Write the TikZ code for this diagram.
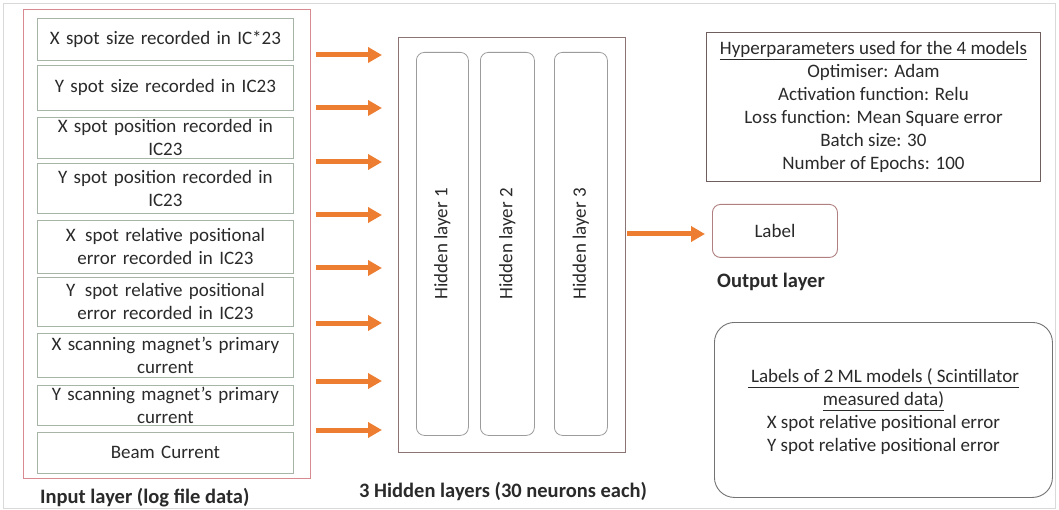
\documentclass[tikz,border=0pt]{standalone}
\usepackage{fontspec}
\setmainfont{Carlito}
\usetikzlibrary{arrows.meta,calc}
\definecolor{oarr}{HTML}{ED7D31}
\definecolor{redframe}{HTML}{D98A90}
\definecolor{inedge}{HTML}{A7B5A6}
\definecolor{hidedge}{HTML}{8C7474}
\definecolor{layedge}{HTML}{9C9C9C}
\definecolor{labedge}{HTML}{B08080}
\definecolor{hypedge}{HTML}{6E5E5E}
\definecolor{txt}{HTML}{2A2A2A}
\newcommand\bodyfs{\fontsize{19}{23}\selectfont}
\tikzset{
  inbox/.style={draw=inedge, line width=0.8pt, minimum width=256pt, anchor=north west, inner sep=0pt},
  intext/.style={text=txt, align=center, text width=256pt, inner sep=0pt, font=\bodyfs},
  layerbox/.style={draw=layedge, line width=0.8pt, rounded corners=8pt, anchor=north west, inner sep=0pt},
  layertext/.style={text=txt, rotate=90, inner sep=0pt, font=\bodyfs},
  caption/.style={text=txt, inner sep=0pt, font=\fontsize{20.5}{24}\selectfont\bfseries},
  feed/.style={draw=oarr, line width=5pt, -{Triangle[length=14pt,width=15pt]}}
}
\begin{document}
\begin{tikzpicture}[x=1pt,y=-1pt]
\useasboundingbox (0,0) rectangle (1059,510);
\fill[white] (0,0) rectangle (1059,510);
\draw[black!15, line width=0.8pt] (3,3) rectangle (1055,508);

% input layer
\node[draw=redframe, line width=1.3pt, minimum width=287pt, minimum height=469pt, anchor=north west, inner sep=0pt] (inframe) at (23,9) {};
\node[inbox, minimum height=42pt] (i1) at (37,18) {};
\node[intext] (t1) at (i1.center) {X spot size recorded in IC*23};
\node[inbox, minimum height=45pt] (i2) at (37,65) {};
\node[intext] (t2) at (i2.center) {Y spot size recorded in IC23};
\node[inbox, minimum height=41pt] (i3) at (37,117) {};
\node[intext] (t3) at (i3.center) {X spot position recorded in\\IC23};
\node[inbox, minimum height=50pt] (i4) at (37,163) {};
\node[intext] (t4) at (i4.center) {Y spot position recorded in\\IC23};
\node[inbox, minimum height=53pt] (i5) at (37,220) {};
\node[intext] (t5) at (i5.center) {X\, spot relative positional\\error recorded in IC23};
\node[inbox, minimum height=49pt] (i6) at (37,277) {};
\node[intext] (t6) at (i6.center) {Y\, spot relative positional\\error recorded in IC23};
\node[inbox, minimum height=44pt] (i7) at (37,333) {};
\node[intext] (t7) at (i7.center) {X scanning magnet's primary\\current};
\node[inbox, minimum height=40pt] (i8) at (37,385) {};
\node[intext] (t8) at (i8.center) {Y scanning magnet's primary\\current};
\node[inbox, minimum height=41pt] (i9) at (37,432) {};
\node[intext] (t9) at (i9.center) {Beam Current};
\node[caption, anchor=west] (incap) at (40,498) {Input layer (log file data)};

% hidden layers
\node[draw=hidedge, line width=1pt, minimum width=227pt, minimum height=415pt, anchor=north west, inner sep=0pt] (hid) at (398,37) {};
\node[layerbox, minimum width=52pt, minimum height=383pt] (h1) at (416,52) {};
\node[layertext] (ht1) at (h1.center) {Hidden layer 1};
\node[layerbox, minimum width=54pt, minimum height=383pt] (h2) at (480,52) {};
\node[layertext] (ht2) at (h2.center) {Hidden layer 2};
\node[layerbox, minimum width=53pt, minimum height=383pt] (h3) at (554,52) {};
\node[layertext] (ht3) at (h3.center) {Hidden layer 3};
\node[caption, anchor=west] (hidcap) at (359,492) {3 Hidden layers (30 neurons each)};

% input-to-hidden arrows
\foreach \k/\yy in {1/55,2/108,3/162,4/215,5/268,6/323,7/381,8/430}{
  \coordinate (s\k) at (316,\yy);
  \coordinate (e\k) at (382,\yy);
  \draw[feed] (s\k) -- (e\k);
}

% output layer
\node[draw=labedge, line width=0.9pt, rounded corners=8pt, minimum width=125pt, minimum height=53pt, anchor=north west, inner sep=0pt] (lab) at (712,204) {};
\node[text=txt, font=\bodyfs, inner sep=0pt] (labt) at (lab.center) {Label};
\node[caption, anchor=west] (outcap) at (717,282) {Output layer};
\coordinate (o1) at (627,234);
\coordinate (o2) at (705,234);
\draw[feed] (o1) -- (o2);

% hyperparameters
\node[draw=hypedge, line width=0.9pt, minimum width=334pt, minimum height=149pt, anchor=north west, inner sep=0pt] (hyp) at (706,32) {};
\node[text=txt, align=center, font=\bodyfs, inner sep=0pt] (hypt) at (hyp.center) {\underline{Hyperparameters used for the 4 models}\\Optimiser: Adam\\Activation function: Relu\\Loss function: Mean Square error\\Batch size: 30\\Number of Epochs: 100};

% labels of the models
\node[draw=black!55, line width=0.9pt, rounded corners=20pt, minimum width=338pt, minimum height=175pt, anchor=north west, inner sep=0pt] (mods) at (714,322) {};
\node[text=txt, align=center, font=\bodyfs, inner sep=0pt] (modt) at ($(mods.center)+(0,2)$) {\underline{\,Labels of 2 ML models ( Scintillator}\\\underline{measured data)}\\X spot relative positional error\\Y spot relative positional error};
\end{tikzpicture}
\end{document}
